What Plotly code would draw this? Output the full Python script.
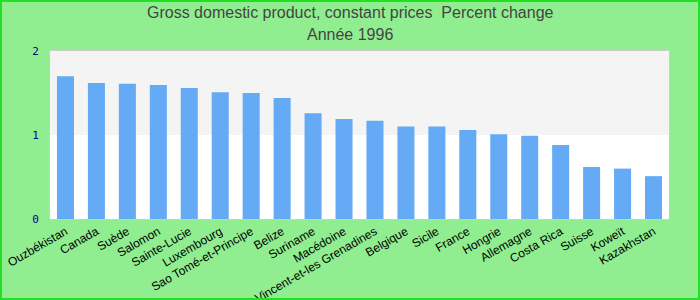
import plotly.graph_objects as go

categories = ["Ouzbékistan", "Canada", "Suède", "Salomon", "Sainte-Lucie", "Luxembourg",
              "Sao Tomé-et-Principe", "Belize", "Suriname", "Macédoine",
              "Saint-Vincent-et-les Grenadines", "Belgique", "Sicile", "France", "Hongrie",
              "Allemagne", "Costa Rica", "Suisse", "Koweït", "Kazakhstan"]
values = [1.70, 1.62, 1.61, 1.595, 1.56, 1.51, 1.50, 1.44, 1.26, 1.19,
          1.17, 1.10, 1.10, 1.06, 1.01, 0.99, 0.88, 0.62, 0.60, 0.51]
y_ticks = [0, 1, 2]
title_lines = ["Gross domestic product, constant prices  Percent change", "Année 1996"]

L, R, T, B = 50, 31, 51, 81
W, H = 700, 300
pw, ph = W - L - R, H - T - B

fig = go.Figure(go.Bar(x=categories, y=values, marker_color="#64aaf5",
                       marker_line_width=0, width=0.55))

fig.add_shape(type="rect", xref="paper", yref="y", x0=0, x1=1, y0=1, y1=2,
              fillcolor="#f4f4f4", line_width=0, layer="below")
fig.add_shape(type="rect", xref="paper", yref="paper",
              x0=(1 - L) / pw, x1=(W - 1 - L) / pw,
              y0=-(H - 1 - (T + ph)) / ph, y1=(T + ph - 1) / ph,
              line=dict(color="#22e022", width=2), fillcolor="rgba(0,0,0,0)")

for txt, ypix in zip(title_lines, [13, 35]):
    fig.add_annotation(text=txt, xref="paper", yref="paper", x=(350 - L) / pw, xanchor="center",
                       y=(T + ph - ypix) / ph, yanchor="middle", showarrow=False,
                       font=dict(family="Liberation Sans, Arial", size=16, color="#444444"))

fig.update_layout(
    width=W, height=H,
    margin=dict(l=L, r=R, t=T, b=B, autoexpand=False),
    paper_bgcolor="#90ee90", plot_bgcolor="white",
    showlegend=False,
    xaxis=dict(tickangle=-30, automargin=False,
               tickfont=dict(family="Liberation Sans, Arial", size=12, color="black"),
               showline=True, linecolor="#cccccc", mirror=True, linewidth=1,
               showgrid=False, ticks=""),
    yaxis=dict(range=[0, 2], tickvals=y_ticks, automargin=False,
               tickfont=dict(family="DejaVu Sans Mono, monospace", size=11, color="#00008b"),
               showline=True, linecolor="#cccccc", mirror=True, linewidth=1,
               showgrid=False, zeroline=False, ticks="", ticklabelstandoff=8),
)

fig.write_html("out.html")
